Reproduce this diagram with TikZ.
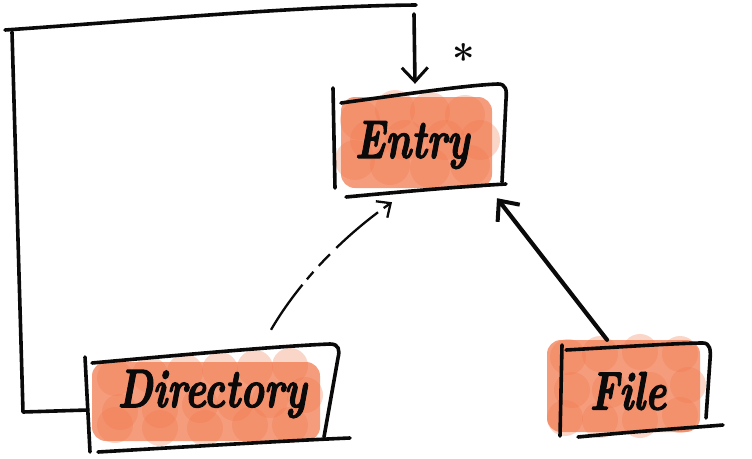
\documentclass[tikz,border=0pt]{standalone}
\usepackage{fontspec}
\usetikzlibrary{arrows.meta}
\newfontfamily\handfont[FakeBold=2.5]{lmroman10-bolditalic.otf}
\definecolor{ora}{RGB}{240,118,74}
\definecolor{ink}{RGB}{10,10,10}
\newcommand{\handtxt}[1]{\scalebox{1}[1.35]{\fontsize{40}{40}\handfont\bfseries #1}}
\tikzset{
  pen/.style={draw=ink, line width=3.6pt, line cap=round, line join=round},
  lbl/.style={inner sep=0pt, text=ink},
  boxarea/.style={draw=none, inner sep=0pt},
  blot/.style={fill=ora, fill opacity=0.3, draw=none},
  base/.style={fill=ora, fill opacity=0.72, draw=none, rounded corners=14pt},
  conn/.style={draw=ink, line width=4.2pt, line cap=round},
  dashconn/.style={draw=ink, line width=2.3pt, dash pattern=on 55pt off 7pt on 10pt off 8pt on 16pt off 9pt},
}
\begin{document}
\begin{tikzpicture}[x=1pt,y=-1pt]
\useasboundingbox (0,0) rectangle (752,458);

% ---------- orange fills ----------
\path[base] (341,97) rectangle (492,188);
\foreach \cx/\cy in {360/120,395/110,430/112,465/115,355/160,390/165,430/168,470/165,480/140,445/140,405/140,370/140}
  \path[blot] (\cx,\cy) circle (20pt);

\path[base] (92,362) rectangle (320,441);
\foreach \cx/\cy in {115/378,150/375,185/372,220/370,255/368,290/366,305/395,270/400,235/403,200/405,160/410,120/412,115/425,160/428,205/428,250/425,290/425}
  \path[blot] (\cx,\cy) circle (18pt);

\path[base] (547,340) rectangle (700,432);
\foreach \cx/\cy in {568/357,600/354,640/352,680/354,688/385,650/390,610/390,572/390,565/418,600/420,640/420,680/415}
  \path[blot] (\cx,\cy) circle (18pt);

% ---------- box nodes ----------
\node[boxarea, minimum width=170pt, minimum height=100pt] (entry) at (419,140) {};
\node[boxarea, minimum width=250pt, minimum height=96pt] (dir) at (213,398) {};
\node[boxarea, minimum width=146pt, minimum height=90pt] (file) at (635,390) {};

\node[lbl] (entrytxt) at (412,145) {\handtxt{Entry}};
\node[lbl] (dirtxt) at (212,394) {\handtxt{Directory}};
\node[lbl] (filetxt) at (628,391) {\handtxt{File}};
\node[font=\fontsize{40}{40}\selectfont\bfseries, text=ink] (mult) at (464,58) {*};

% ---------- hand-drawn outlines ----------
% Entry
\path[pen] (333,88) -- (335,188);
\path[pen] (341,103) .. controls (420,92) and (470,85) .. (498,84)
   .. controls (506,84) and (507,90) .. (506,100) -- (502,182);
\path[pen] (346,197) .. controls (420,190) and (470,186) .. (506,184);
% Directory
\path[pen] (85,357) -- (90,452);
\path[pen] (92,363) .. controls (180,355) and (280,346) .. (330,344)
   .. controls (339,344) and (340,350) .. (338,358) -- (324,437);
\path[pen] (98,452) .. controls (200,446) and (300,440) .. (350,438);
% File
\path[pen] (562,345) -- (560,436);
\path[pen] (566,350) .. controls (620,347) and (680,343) .. (703,343)
   .. controls (710,343) and (711,350) .. (710,360) -- (706,418);
\path[pen] (578,437) .. controls (640,431) and (700,427) .. (723,425);

% ---------- connectors ----------
\coordinate (c1) at (23,412);
\coordinate (c2) at (12,32);
\coordinate (c3) at (5,30);
\coordinate (c4) at (416,5);
\coordinate (c5) at (414,14);
\path[pen] ([yshift=-12pt]dir.west) -- (c1) -- (c2);
\path[pen] (c3) .. controls (150,20) and (300,6) .. (c4);
\path[pen, -{Straight Barb[length=14pt,width=26pt,line width=3pt]}] (c5) -- ([xshift=-4pt,yshift=6pt]entry.north);

\path[conn, -{Straight Barb[length=16pt,width=28pt,line width=4pt]}] ([xshift=-28pt,yshift=5pt]file.north) -- ([xshift=78pt,yshift=-8pt]entry.south);

\path[dashconn, -{Straight Barb[length=11pt,width=20pt,line width=2.3pt]}] ([xshift=58pt,yshift=20pt]dir.north) .. controls (300,280) and (345,235) .. ([xshift=-27pt,yshift=-12pt]entry.south);
\end{tikzpicture}
\end{document}
